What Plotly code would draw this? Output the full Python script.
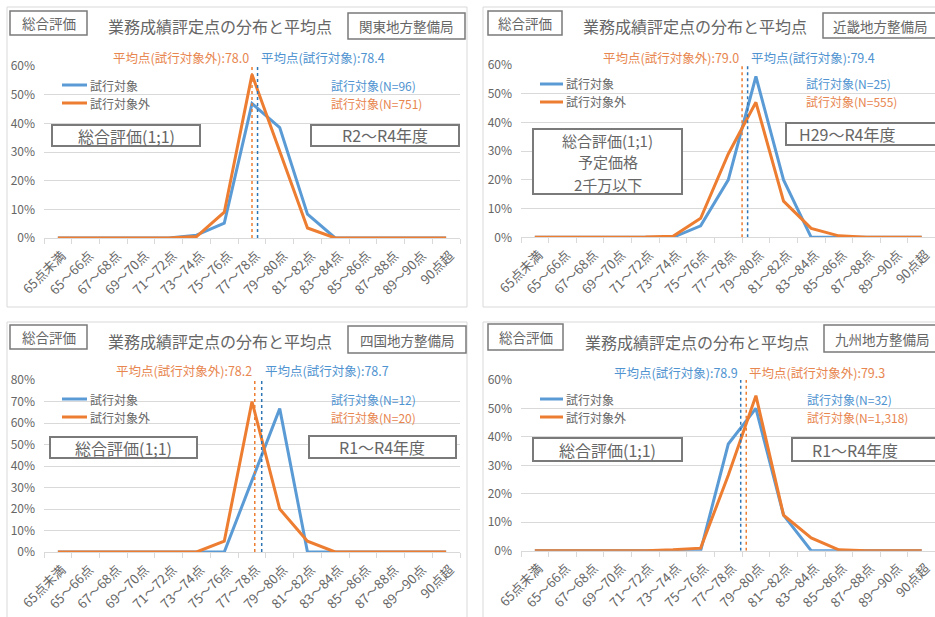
import plotly.graph_objects as go

# ---- data -------------------------------------------------------------
CATEGORIES = ["65点未満", "65～66点", "67～68点", "69～70点", "71～72点",
              "73～74点", "75～76点", "77～78点", "79～80点", "81～82点",
              "83～84点", "85～86点", "87～88点", "89～90点", "90点超"]

# share of works per score band (%)
KANTO_TRIAL = [0, 0, 0, 0, 0, 1.0, 5.2, 46.9, 38.5, 8.3, 0, 0, 0, 0, 0]
KANTO_OTHER = [0, 0, 0, 0, 0, 0.5, 9.0, 57.0, 30.0, 3.5, 0, 0, 0, 0, 0]
KINKI_TRIAL = [0, 0, 0, 0, 0, 0, 4.0, 20.0, 56.0, 20.0, 0, 0, 0, 0, 0]
KINKI_OTHER = [0, 0, 0, 0, 0.1, 0.4, 6.6, 29.0, 47.0, 12.6, 3.1, 0.5, 0, 0, 0]
SHIKOKU_TRIAL = [0, 0, 0, 0, 0, 0, 0, 33.3, 66.7, 0, 0, 0, 0, 0, 0]
SHIKOKU_OTHER = [0, 0, 0, 0, 0, 0, 5.0, 70.0, 20.0, 5.0, 0, 0, 0, 0, 0]
KYUSHU_TRIAL = [0, 0, 0, 0, 0, 0, 0, 37.5, 50.0, 12.5, 0, 0, 0, 0, 0]
KYUSHU_OTHER = [0, 0, 0, 0, 0, 0.3, 0.9, 26.5, 54.5, 12.5, 4.5, 0.3, 0, 0, 0]

REGIONS = ["関東地方整備局", "近畿地方整備局", "四国地方整備局", "九州地方整備局"]
PERIODS = ["R2～R4年度", "H29～R4年度", "R1～R4年度", "R1～R4年度"]
CONDITIONS = [["総合評価(1;1)"],
              ["総合評価(1;1)", "予定価格", "2千万以下"],
              ["総合評価(1;1)"],
              ["総合評価(1;1)"]]
N_TRIAL = [96, 25, 12, 32]
N_OTHER = [751, 555, 20, 1318]
MEAN_TRIAL = [78.4, 79.4, 78.7, 78.9]
MEAN_OTHER = [78.0, 79.0, 78.2, 79.3]
Y_MAX = [60, 60, 80, 60]

TRIAL = [KANTO_TRIAL, KINKI_TRIAL, SHIKOKU_TRIAL, KYUSHU_TRIAL]
OTHER = [KANTO_OTHER, KINKI_OTHER, SHIKOKU_OTHER, KYUSHU_OTHER]

# ---- styling ------------------------------------------------------------
W, H = 935, 617
FONT = "Noto Sans CJK JP, Noto Sans, sans-serif"
BLUE = "#5b9bd5"
ORANGE = "#ed7d31"
BLUE_TXT = "#4f93d0"
ORANGE_TXT = "#e8864f"
GRAY_TXT = "#666666"
GRID = "#d9d9d9"
BOX = "#7a7a7a"


def px(x):
    return x / W


def py(y):
    return 1 - y / H


def band_index(score):
    # position of a mean score on the score-band axis (band 77～78 centred at 78)
    return 7 + (score - 78.0) / 2.0


# per-panel geometry in page pixels
PANELS = [
    dict(frame=(7, 7, 467, 307), tag=(10, 11, 87, 35), title=(220, 26),
         region=(348, 13, 465, 39), region_c=406, mean_y=57,
         leg_x=(62, 87), leg_y=(85, 103), n_x=329,
         cond=(52, 125, 200, 146), cond_y=[136], cond_size=16,
         period=(311, 125, 459, 146), period_c=385,
         plot_x=(44, 460), plot_y=(66, 238), xr=(-0.5, 14.5)),
    dict(frame=(483, 7, 950, 307), tag=(488, 11, 562, 35), title=(695, 26),
         region=(823, 13, 950, 38), region_c=880, mean_y=57,
         leg_x=(540, 563), leg_y=(84, 102), n_x=804,
         cond=(533, 129, 682, 194), cond_y=[140, 162, 184], cond_size=15,
         period=(786, 123, 950, 145), period_c=847,
         plot_x=(521, 935), plot_y=(65, 237.3), xr=(-0.5, 14.48)),
    dict(frame=(7, 322, 467, 640), tag=(10, 325, 87, 349), title=(220, 341),
         region=(348, 326, 466, 353), region_c=407, mean_y=370,
         leg_x=(62, 87), leg_y=(399, 417), n_x=329,
         cond=(50, 437, 197, 458), cond_y=[447.5], cond_size=16,
         period=(309, 436, 456, 458), period_c=382,
         plot_x=(44, 460), plot_y=(380, 552), xr=(-0.5, 14.5)),
    dict(frame=(483, 322, 950, 640), tag=(488, 324, 563, 350), title=(697, 342),
         region=(824, 325, 950, 352), region_c=882, mean_y=372,
         leg_x=(540, 563), leg_y=(399, 417), n_x=805,
         cond=(533, 438, 682, 461), cond_y=[449.5], cond_size=16,
         period=(792, 438, 950, 461), period_c=855,
         plot_x=(521, 935), plot_y=(380, 550.7), xr=(-0.5, 14.48)),
]

fig = go.Figure()
shapes = []
annotations = []
x_idx = list(range(len(CATEGORIES)))


def rect(box, color, width, fill=None, layer="above"):
    x0, y0, x1, y1 = box
    d = dict(type="rect", xref="paper", yref="paper",
             x0=px(x0), x1=px(x1), y0=py(y1), y1=py(y0),
             line=dict(color=color, width=width), layer=layer)
    if fill:
        d["fillcolor"] = fill
    return d


def label(x, y, text, size, color, anchor="center"):
    return dict(xref="paper", yref="paper", x=px(x), y=py(y), text=text,
                showarrow=False, xanchor=anchor, yanchor="middle",
                font=dict(size=size, color=color, family=FONT))


for i, g in enumerate(PANELS):
    k = "" if i == 0 else str(i + 1)
    xa, ya = "x" + k, "y" + k

    # panel frame
    shapes.append(rect(g["frame"], GRID, 1, layer="below"))

    # distribution lines
    fig.add_trace(go.Scatter(x=x_idx, y=TRIAL[i], xaxis=xa, yaxis=ya,
                             mode="lines", line=dict(color=BLUE, width=3),
                             name="試行対象", showlegend=False))
    fig.add_trace(go.Scatter(x=x_idx, y=OTHER[i], xaxis=xa, yaxis=ya,
                             mode="lines", line=dict(color=ORANGE, width=3),
                             name="試行対象外", showlegend=False))

    # mean score markers
    mo, mt = band_index(MEAN_OTHER[i]), band_index(MEAN_TRIAL[i])
    fig.add_trace(go.Scatter(x=[mo, mo], y=[0, Y_MAX[i]], xaxis=xa, yaxis=ya,
                             mode="lines", line=dict(color=ORANGE, width=1.5, dash="dot"),
                             showlegend=False, hoverinfo="skip"))
    fig.add_trace(go.Scatter(x=[mt, mt], y=[0, Y_MAX[i]], xaxis=xa, yaxis=ya,
                             mode="lines", line=dict(color="#2e75b6", width=1.5, dash="dot"),
                             showlegend=False, hoverinfo="skip"))

    txt_other = f"平均点(試行対象外):{MEAN_OTHER[i]:.1f}"
    txt_trial = f"平均点(試行対象):{MEAN_TRIAL[i]:.1f}"
    if MEAN_OTHER[i] <= MEAN_TRIAL[i]:
        pairs = [(mo, txt_other, ORANGE_TXT, "right", -1), (mt, txt_trial, BLUE_TXT, "left", 1)]
    else:
        pairs = [(mt, txt_trial, BLUE_TXT, "right", -1), (mo, txt_other, ORANGE_TXT, "left", 1)]
    for xv, t, c, anc, sh in pairs:
        annotations.append(dict(xref=xa, yref="paper", x=xv, y=py(g["mean_y"]),
                                text=t, showarrow=False, xanchor=anc, yanchor="middle",
                                xshift=sh, font=dict(size=12.5, color=c, family=FONT)))

    # axes
    x0, x1 = g["plot_x"]
    y0, y1 = g["plot_y"]
    fig.update_layout(**{
        "xaxis" + k: dict(domain=[px(x0), px(x1)], anchor=ya, range=list(g["xr"]),
                          tickmode="array", tickvals=x_idx, ticktext=CATEGORIES,
                          tickangle=-45, ticks="", showgrid=False, zeroline=False,
                          showline=True, linecolor=GRID, linewidth=1,
                          automargin=False, ticklabelstandoff=4, ticklabelshift=4,
                          tickfont=dict(size=13, color=GRAY_TXT, family=FONT),
                          minor=dict(tickmode="array",
                                     tickvals=[v - 0.5 for v in range(len(CATEGORIES) + 1)],
                                     ticks="outside", ticklen=5, tickcolor=GRID,
                                     tickwidth=1, showgrid=False),
                          fixedrange=True),
        "yaxis" + k: dict(domain=[py(y1), py(y0)], anchor=xa, range=[0, Y_MAX[i]],
                          tickmode="linear", tick0=0, dtick=10, ticksuffix="%",
                          showgrid=True, gridcolor=GRID, gridwidth=1, zeroline=False,
                          showline=False, ticks="", ticklabelstandoff=8,
                          automargin=False,
                          tickfont=dict(size=12, color=GRAY_TXT, family=FONT),
                          fixedrange=True),
    })

    # header: tag box, title, region box
    tx0, ty0, tx1, ty1 = g["tag"]
    shapes.append(rect(g["tag"], BOX, 1.5, fill="white"))
    annotations.append(label((tx0 + tx1) / 2, (ty0 + ty1) / 2, "総合評価", 13.5, GRAY_TXT))
    annotations.append(label(g["title"][0], g["title"][1], "業務成績評定点の分布と平均点", 16, GRAY_TXT))
    ry0, ry1 = g["region"][1], g["region"][3]
    shapes.append(rect(g["region"], BOX, 1.5, fill="white"))
    annotations.append(label(g["region_c"], (ry0 + ry1) / 2, REGIONS[i], 13.5, GRAY_TXT))

    # legend
    lx0, lx1 = g["leg_x"]
    for ly, col, name in [(g["leg_y"][0], BLUE, "試行対象"), (g["leg_y"][1], ORANGE, "試行対象外")]:
        shapes.append(dict(type="line", xref="paper", yref="paper",
                           x0=px(lx0), x1=px(lx1), y0=py(ly), y1=py(ly),
                           line=dict(color=col, width=3)))
        annotations.append(label(lx1 + 1, ly, name, 12, GRAY_TXT, anchor="left"))

    # sample counts
    annotations.append(label(g["n_x"], g["leg_y"][0], f"試行対象(N={N_TRIAL[i]:,})",
                             12, BLUE_TXT, anchor="left"))
    annotations.append(label(g["n_x"], g["leg_y"][1], f"試行対象(N={N_OTHER[i]:,})",
                             12, ORANGE_TXT, anchor="left"))

    # condition and period boxes
    cx0, cx1 = g["cond"][0], g["cond"][2]
    shapes.append(rect(g["cond"], BOX, 2, fill="white"))
    for line_text, ly in zip(CONDITIONS[i], g["cond_y"]):
        annotations.append(label((cx0 + cx1) / 2, ly, line_text, g["cond_size"], GRAY_TXT))
    pb = g["period"]
    shapes.append(rect(pb, BOX, 2, fill="white"))
    annotations.append(label(g["period_c"], (pb[1] + pb[3]) / 2, PERIODS[i], 16, GRAY_TXT))

fig.update_layout(
    width=W, height=H,
    margin=dict(l=0, r=0, t=0, b=0, autoexpand=False),
    paper_bgcolor="white", plot_bgcolor="white",
    showlegend=False,
    shapes=shapes, annotations=annotations,
    font=dict(family=FONT, color=GRAY_TXT),
)

fig.write_html("out.html")
